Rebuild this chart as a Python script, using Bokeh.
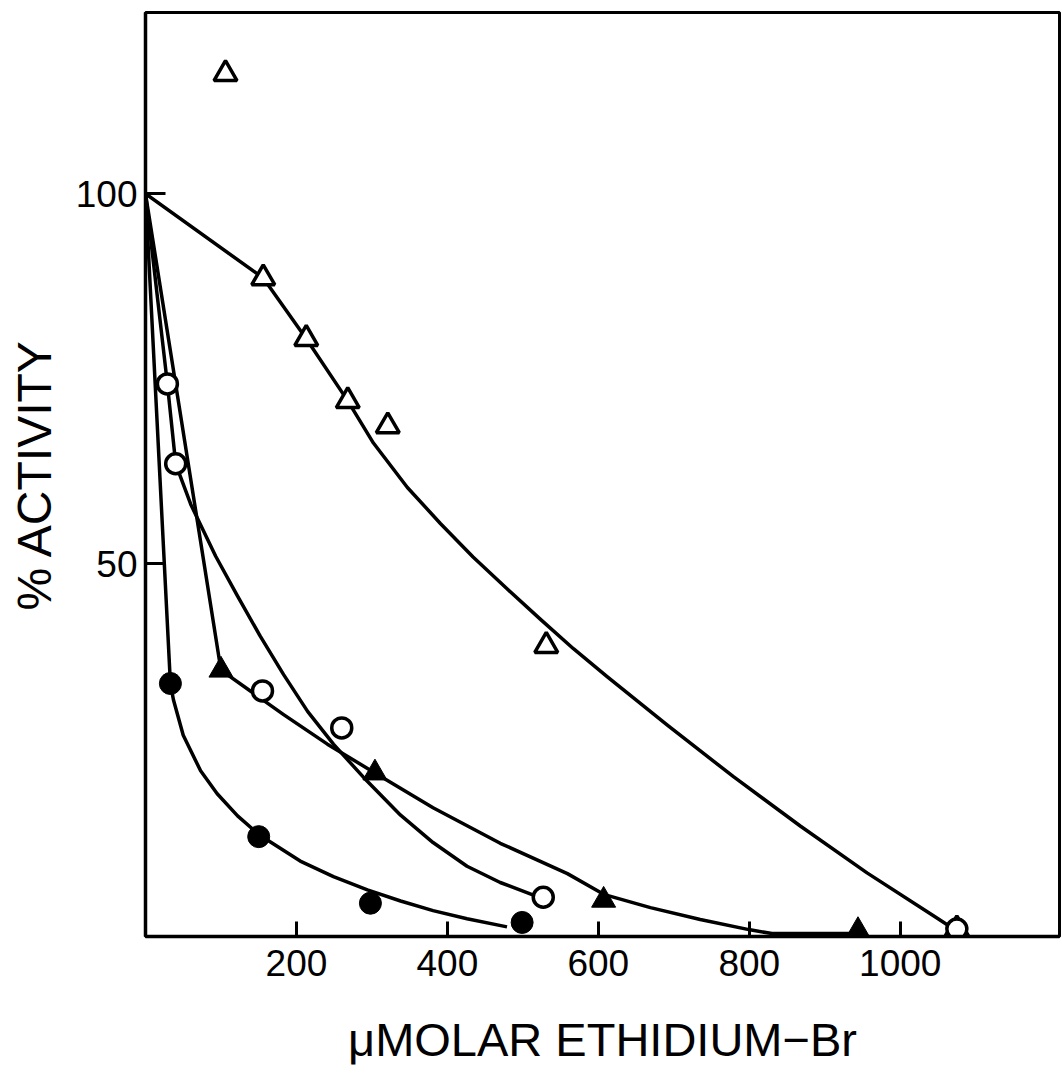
from bokeh.plotting import figure
from bokeh.models import FixedTicker, Range1d
from bokeh.embed import file_html
from bokeh.resources import INLINE

# ---- data (x: micromolar ethidium bromide, y: % activity) ----
# open triangles
otri_x = [106, 156, 213, 268, 321, 531, 1075]
otri_y = [116.2, 88.6, 80.4, 72.0, 68.6, 38.9, 0.6]
otri_curve_x = [0, 156, 213, 268, 302, 347, 391, 434, 479, 523, 567, 612, 691, 779, 868, 956, 1044, 1077]
otri_curve_y = [100, 88.6, 80.4, 72.0, 66.3, 60.3, 55.4, 50.9, 46.6, 42.5, 38.5, 34.7, 28.2, 21.2, 14.5, 8.2, 2.4, 0.2]

# open circles
ocir_x = [29, 40, 155, 260, 527, 1075]
ocir_y = [74.3, 63.5, 32.8, 27.8, 4.9, 0.6]
ocir_curve_x = [0, 29, 40, 60, 93, 122, 152, 183, 215, 249, 289, 338, 381, 426, 470, 514]
ocir_curve_y = [100, 74.3, 63.5, 58.0, 51.0, 45.6, 40.2, 35.0, 30.0, 25.6, 21.1, 16.0, 12.3, 9.1, 6.9, 5.2]

# filled circles
fcir_x = [33, 150, 298, 499]
fcir_y = [33.8, 13.1, 4.1, 1.5]
fcir_curve_x = [0, 33, 37, 50, 73, 95, 122, 150, 205, 249, 294, 338, 381, 426, 479]
fcir_curve_y = [100, 33.8, 31.6, 26.8, 22.0, 18.9, 15.9, 13.4, 9.8, 7.7, 5.9, 4.4, 3.1, 2.0, 0.9]

# filled triangles
ftri_x = [100, 304, 607, 944]
ftri_y = [35.6, 21.7, 4.5, 0.4]
ftri_curve_x = [0, 100, 183, 241, 304, 381, 470, 559, 607, 669, 735, 801, 830, 947]
ftri_curve_y = [100, 35.6, 29.6, 25.6, 21.7, 17.0, 12.2, 8.1, 5.3, 3.5, 1.9, 0.5, 0.0, 0.0]

x_ticks = [200, 400, 600, 800, 1000]
y_ticks = [50, 100]

FONT = "Liberation Sans"

p = figure(width=1062, height=1078, output_backend="svg", toolbar_location=None,
           x_range=Range1d(0, 1211), y_range=Range1d(-0.4, 124.5),
           min_border_left=145, min_border_right=3, min_border_top=12, min_border_bottom=142,
           background_fill_color="white", border_fill_color="white")

p.xgrid.visible = False
p.ygrid.visible = False
p.outline_line_color = "black"
p.outline_line_width = 3
p.outline_line_alpha = 1.0

LW = 3.5
# curves
for cx, cy in ((otri_curve_x, otri_curve_y), (ocir_curve_x, ocir_curve_y),
               (fcir_curve_x, fcir_curve_y), (ftri_curve_x, ftri_curve_y)):
    p.line(cx, cy, line_color="black", line_width=LW, line_join="round")

# markers
p.scatter(otri_x, otri_y, marker="triangle", size=23, fill_color="white",
          line_color="black", line_width=3.5)
p.scatter(ocir_x, ocir_y, marker="circle", size=20, fill_color="white",
          line_color="black", line_width=3.5)
p.scatter(fcir_x, fcir_y, marker="circle", size=22, fill_color="black",
          line_color="black", line_width=1)
p.scatter(ftri_x, ftri_y, marker="triangle", size=24, fill_color="black",
          line_color="black", line_width=1)

# axes
p.xaxis.ticker = FixedTicker(ticks=x_ticks)
p.yaxis.ticker = FixedTicker(ticks=y_ticks)
for ax in (p.xaxis, p.yaxis):
    ax.axis_line_color = "black"
    ax.axis_line_width = 3.5
    ax.major_tick_line_color = "black"
    ax.major_tick_line_width = 3
    ax.major_tick_out = 0
    ax.minor_tick_line_color = None
    ax.major_label_text_font = FONT
    ax.major_label_text_font_size = "37px"
    ax.major_label_text_color = "black"
    ax.axis_label_text_font = FONT
    ax.axis_label_text_font_style = "normal"
    ax.axis_label_text_color = "black"

p.xaxis.major_tick_in = 15
p.yaxis.major_tick_in = 20
p.xaxis.major_label_standoff = 13
p.yaxis.major_label_standoff = 8

p.xaxis.axis_label = "\u03bcMOLAR ETHIDIUM\u2212Br"
p.xaxis.axis_label_text_font_size = "47px"
p.xaxis.axis_label_standoff = 34

p.yaxis.axis_label = "% ACTIVITY"
p.yaxis.axis_label_text_font_size = "48px"
p.yaxis.axis_label_standoff = 12

open("out.html", "w").write(file_html(p, INLINE))
